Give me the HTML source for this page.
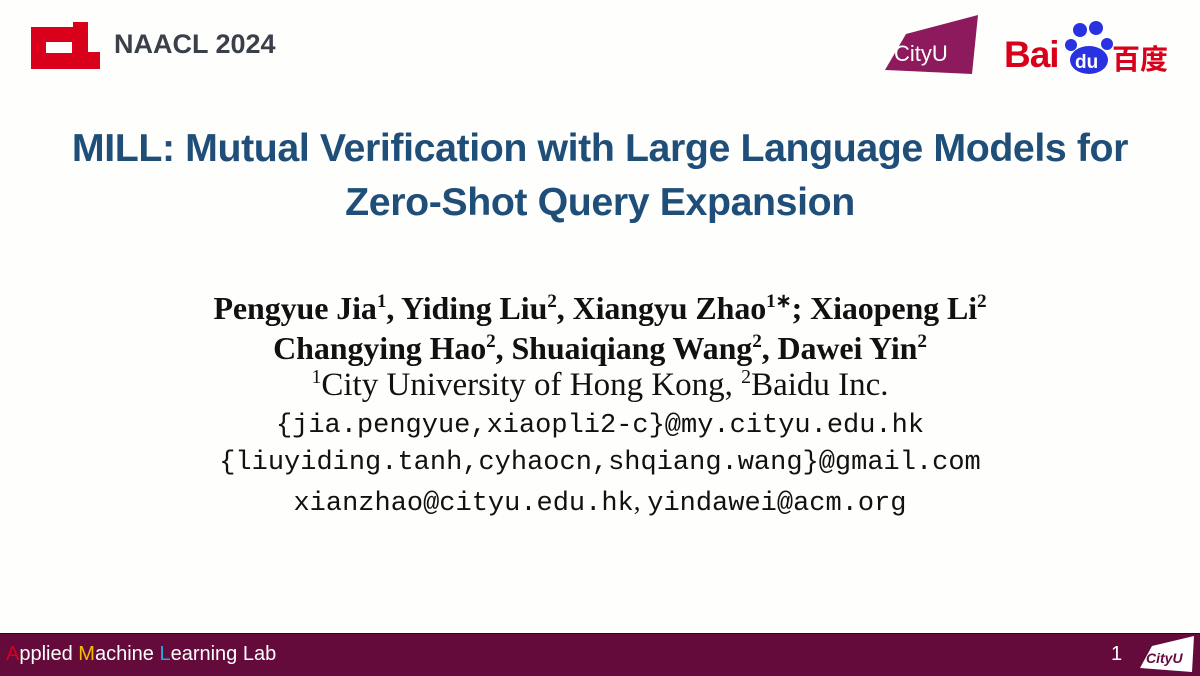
<!DOCTYPE html>
<html><head><meta charset="utf-8"><style>
body{margin:0;width:1200px;height:675px;background:#fefefc;position:relative;overflow:hidden;font-family:"Liberation Sans",sans-serif}
.a{position:absolute}
.t{left:0;width:1200px;text-align:center;color:#1f4e79;font-weight:bold;font-size:39.3px;letter-spacing:-0.4px}
.s{left:0;width:1200px;text-align:center;font-family:"Liberation Serif",serif;color:#111}
.m{left:0;width:1200px;text-align:center;font-family:"Liberation Mono",monospace;font-size:27px;color:#111}
sup{font-size:60%;vertical-align:0;position:relative;top:-0.6em}
</style></head><body>
<svg class="a" style="left:31px;top:22px" width="70" height="47"><path d="M0 5H42V0H57V30H69V47H0Z" fill="#d9001b"/><rect x="15" y="20" width="26" height="11" fill="#fff"/></svg>
<div class="a" style="left:114px;top:29px;font-size:27px;font-weight:bold;color:#3a3f4a">NAACL 2024</div>
<svg class="a" style="left:882px;top:12px" width="100" height="66"><path d="M24 22L96 3L90 62L3 58Z" fill="#8c1a5c"/><text x="12" y="49" font-family="Liberation Sans" font-size="22" fill="#fff">CityU</text></svg>
<div class="a" style="left:1004px;top:34px;font-size:37px;font-weight:bold;color:#d9001b;letter-spacing:-1px">Bai</div>
<svg class="a" style="left:1063px;top:18px" width="56" height="58"><circle cx="17" cy="12" r="7" fill="#2932e1"/><circle cx="33" cy="10" r="7" fill="#2932e1"/><circle cx="8" cy="27" r="6" fill="#2932e1"/><circle cx="44" cy="26" r="6" fill="#2932e1"/><ellipse cx="26" cy="42" rx="19" ry="14" fill="#2932e1"/><text x="12" y="50" font-family="Liberation Sans" font-size="19" font-weight="bold" fill="#fff">du</text></svg>
<div class="a" style="left:1112px;top:38px;font-size:28px;font-weight:bold;color:#d9001b;font-family:'Noto Sans CJK SC',sans-serif">百度</div>
<div class="a t" style="top:126px">MILL: Mutual Verification with Large Language Models for</div>
<div class="a t" style="top:180px">Zero-Shot Query Expansion</div>
<div class="a s" style="top:290px;font-size:32px;font-weight:bold;letter-spacing:-0.1px">Pengyue Jia<sup>1</sup>, Yiding Liu<sup>2</sup>, Xiangyu Zhao<sup>1</sup><sup>∗</sup>; Xiaopeng Li<sup>2</sup></div>
<div class="a s" style="top:330px;font-size:32px;font-weight:bold;letter-spacing:-0.1px">Changying Hao<sup>2</sup>, Shuaiqiang Wang<sup>2</sup>, Dawei Yin<sup>2</sup></div>
<div class="a s" style="top:367px;font-size:33px"><sup>1</sup>City University of Hong Kong, <sup>2</sup>Baidu Inc.</div>
<div class="a m" style="top:411px">{jia.pengyue,xiaopli2-c}@my.cityu.edu.hk</div>
<div class="a m" style="top:448px">{liuyiding.tanh,cyhaocn,shqiang.wang}@gmail.com</div>
<div class="a m" style="top:486px">xianzhao@cityu.edu.hk<span style="font-family:'Liberation Serif',serif">, </span>yindawei@acm.org</div>
<div class="a" style="left:0;top:633px;width:1200px;height:42px;background:#650b3c;border-top:1px solid #3a0020"></div>
<div class="a" style="left:6px;top:643px;font-size:20px;color:#fff"><span style="color:#d9001b">A</span>pplied <span style="color:#f0c000">M</span>achine <span style="color:#29a8e0">L</span>earning Lab</div>
<div class="a" style="left:1111px;top:643px;font-size:20px;color:#fff">1</div>
<svg class="a" style="left:1140px;top:636px" width="55" height="36"><path d="M12 10L54 0L52 36L0 32Z" fill="#fff"/><text x="6" y="27" font-family="Liberation Sans" font-size="14" font-style="italic" font-weight="bold" fill="#650b3c">CityU</text></svg>
</body></html>
